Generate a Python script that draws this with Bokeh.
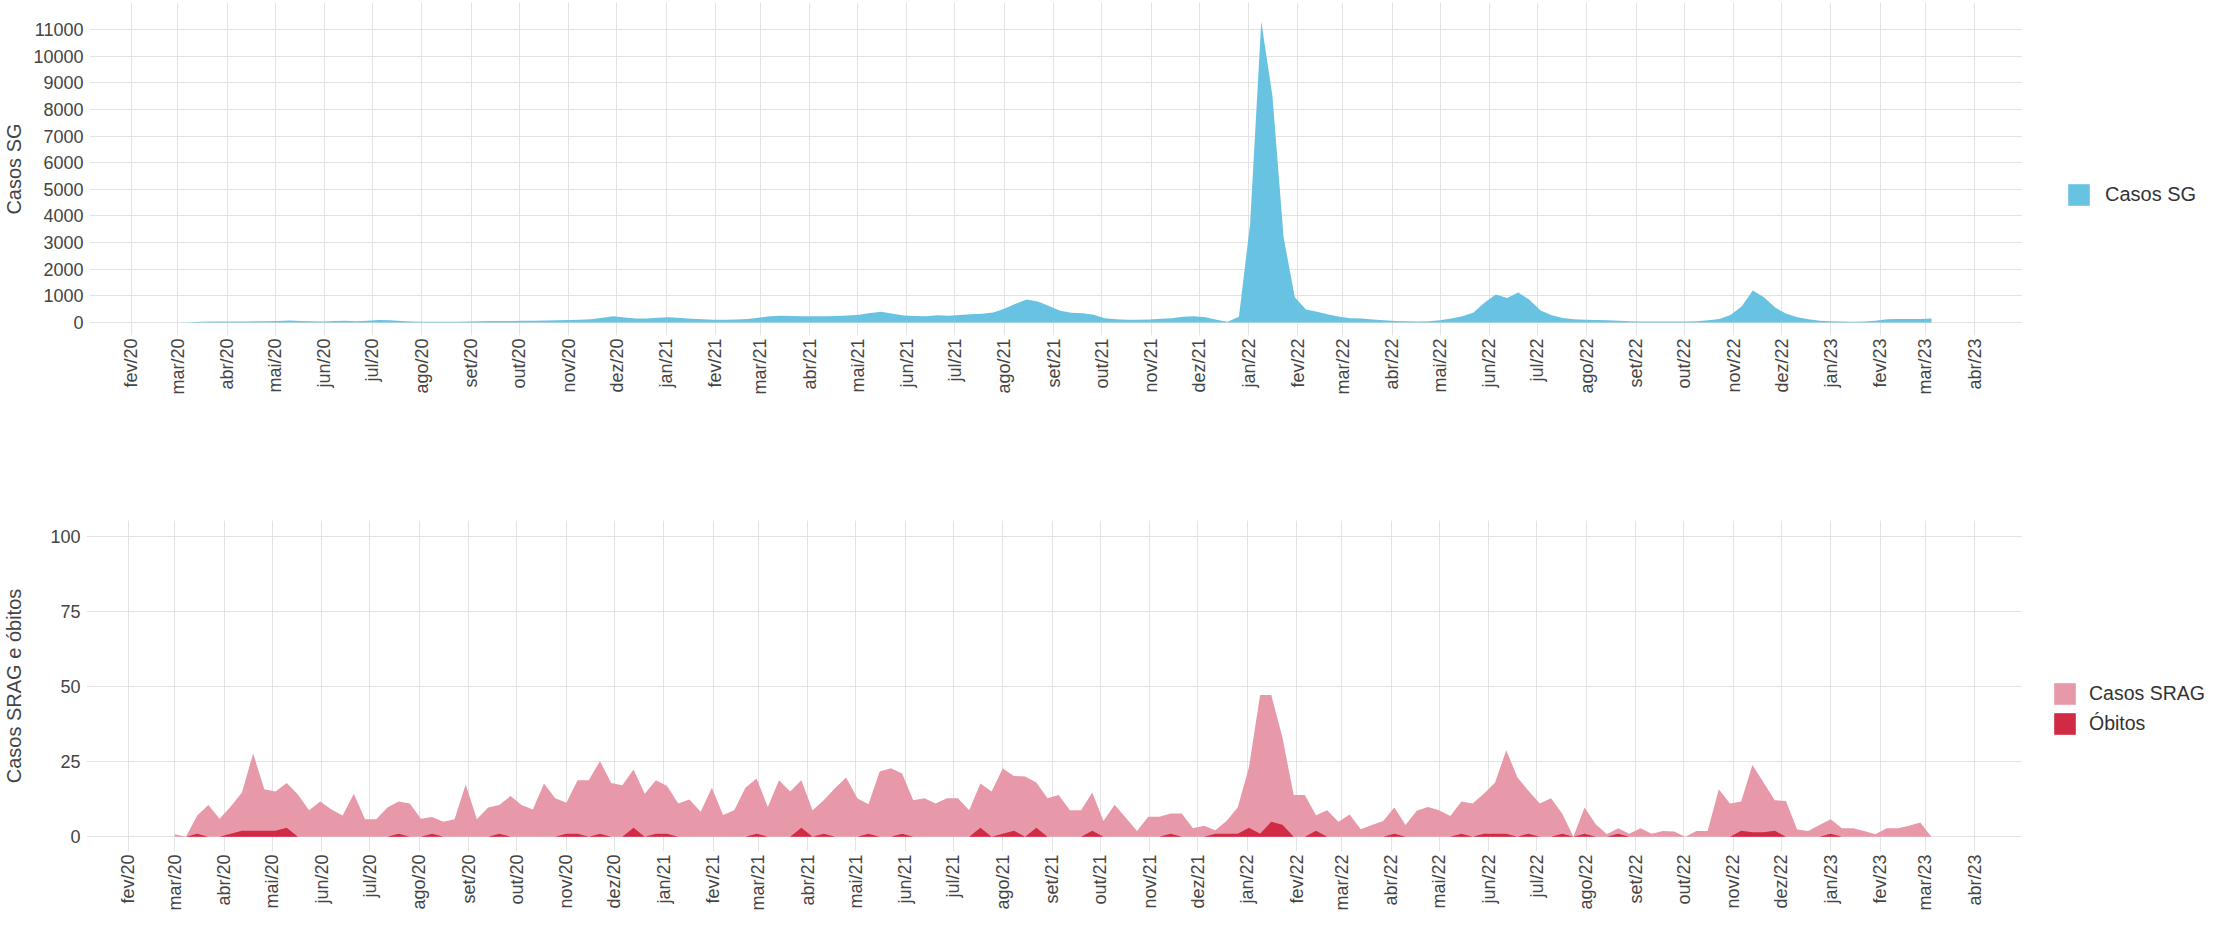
import math
import pandas as pd
from bokeh.plotting import figure
from bokeh.models import FixedTicker, Legend, LegendItem, Range1d, ColumnDataSource
from bokeh.layouts import column, row
from bokeh.embed import file_html
from bokeh.resources import INLINE

# ---------------- data ----------------
week_start = "2020-03-01"   # weekly series (epidemiological weeks)
n_weeks = 158

casos_sg = [
    0, 10, 30, 35, 40, 40, 40, 45, 50, 60,
    75, 60, 45, 40, 55, 65, 45, 70, 90, 85,
    60, 40, 30, 25, 25, 25, 35, 50, 55, 60,
    60, 65, 70, 75, 80, 90, 100, 120, 180, 230,
    190, 150, 150, 180, 200, 170, 140, 120, 105, 100,
    115, 130, 180, 230, 256, 240, 230, 235, 235, 240,
    260, 290, 360, 400, 330, 260, 240, 230, 270, 250,
    280, 310, 330, 380, 520, 700, 860, 790, 620, 440,
    370, 350, 290, 160, 120, 100, 100, 110, 140, 160,
    220, 230, 200, 100, 25, 220, 3700, 11300, 8500, 3200,
    950, 490, 400, 300, 220, 160, 150, 110, 80, 55,
    45, 40, 50, 80, 150, 230, 380, 750, 1050, 920,
    1130, 850, 450, 270, 170, 120, 100, 95, 85, 70,
    50, 40, 40, 40, 40, 40, 50, 80, 130, 280,
    600, 1200, 950, 560, 330, 200, 120, 70, 45, 35,
    25, 40, 70, 120, 130, 130, 135, 150,
]

casos_srag = [
    0.8, 0, 7, 10.5, 6, 10, 14.7, 27.7, 15.8, 15,
    17.9, 14, 8.8, 11.7, 9, 7, 14.3, 5.8, 5.8, 9.7,
    11.7, 11, 6, 6.5, 5, 5.8, 17.4, 5.8, 9.7, 10.5,
    13.5, 10.5, 9, 17.7, 12.8, 11.3, 18.8, 18.8, 25.2, 17.9,
    17.1, 22.4, 14.3, 18.8, 16.9, 11, 12.4, 8.3, 16.3, 7.2,
    8.8, 16.3, 19.4, 9.9, 18.8, 15, 18.8, 8.8, 12.1, 16.1,
    19.7, 12.8, 10.8, 21.7, 22.8, 21, 12.1, 12.8, 11, 12.8,
    12.8, 8.8, 17.7, 15, 22.7, 20.2, 20, 18, 12.8, 13.9,
    8.8, 8.8, 14.7, 5.2, 10.6, 6.3, 1.9, 6.6, 6.6, 7.7,
    7.7, 2.8, 3.6, 2.1, 5.2, 9.7, 23, 47.2, 47.2, 33,
    13.9, 13.9, 7.1, 8.8, 5, 7.4, 2.5, 3.9, 5.2, 9.7,
    3.9, 8.6, 9.9, 8.8, 6.9, 11.7, 11, 14.3, 18, 28.8,
    19.7, 15.2, 11, 12.8, 7.7, 0, 9.7, 4.1, 0.8, 2.8,
    1, 2.8, 1, 1.9, 1.7, 0, 1.9, 1.9, 15.8, 11,
    11.7, 23.9, 18, 12.1, 11.9, 2.4, 1.9, 3.9, 5.8, 2.8,
    2.8, 1.9, 0.8, 2.8, 2.8, 3.6, 4.7, 0,
]

obitos = [
    0, 0, 1, 0, 0, 1, 2, 2, 2, 2,
    3, 0, 0, 0, 0, 0, 0, 0, 0, 0,
    1, 0, 0, 1, 0, 0, 0, 0, 0, 1,
    0, 0, 0, 0, 0, 1, 1, 0, 1, 0,
    0, 3, 0, 1, 1, 0, 0, 0, 0, 0,
    0, 0, 1, 0, 0, 0, 3, 0, 1, 0,
    0, 0, 1, 0, 0, 1, 0, 0, 0, 0,
    0, 0, 3, 0, 1, 2, 0, 3, 0, 0,
    0, 0, 2, 0, 0, 0, 0, 0, 0, 1,
    0, 0, 0, 1, 1, 1, 3, 1, 5, 4,
    0, 0, 2, 0, 0, 0, 0, 0, 0, 1,
    0, 0, 0, 0, 0, 1, 0, 1, 1, 1,
    0, 1, 0, 0, 1, 0, 1, 0, 0, 1,
    0, 0, 0, 0, 0, 0, 0, 0, 0, 0,
    2, 1.5, 1.5, 2, 0, 0, 0, 0, 1, 0,
    0, 0, 0, 0, 0, 0, 0, 0,
]

tick_dates = pd.date_range("2020-02-01", "2023-04-01", freq="MS")
tick_labels = [
    "fev/20", "mar/20", "abr/20", "mai/20", "jun/20", "jul/20", "ago/20", "set/20",
    "out/20", "nov/20", "dez/20", "jan/21", "fev/21", "mar/21", "abr/21", "mai/21",
    "jun/21", "jul/21", "ago/21", "set/21", "out/21", "nov/21", "dez/21", "jan/22",
    "fev/22", "mar/22", "abr/22", "mai/22", "jun/22", "jul/22", "ago/22", "set/22",
    "out/22", "nov/22", "dez/22", "jan/23", "fev/23", "mar/23", "abr/23",
]
sg_ticks = list(range(0, 11001, 1000))
srag_ticks = [0, 25, 50, 75, 100]

x_start, x_end = "2020-01-05 18:00", "2023-05-01"

# ---------------- helpers ----------------
def to_ms(ts):
    return pd.DatetimeIndex(ts).values.astype("datetime64[ms]").astype("int64").tolist()

weeks = pd.date_range(week_start, periods=n_weeks, freq="7D")
x_ms = to_ms(weeks)
tick_ms = to_ms(tick_dates)
x0, x1 = to_ms([x_start, x_end])

src = ColumnDataSource(dict(x=x_ms, sg=casos_sg, srag=casos_srag, ob=obitos))

BLUE = "#68c3e3"
PINK = "#e899a9"
RED = "#d12a44"
GRID = "#e3e3e3"
TXT = "#444444"
FONT = "Liberation Sans"

MAIN_W = 2022     # page x 8 .. 2030 (plot frame ends at the figure's right edge)
LEG_W = 184       # page x 2030 .. 2214


def style(p, yticks, ylabel, label_standoff):
    p.outline_line_color = None
    p.background_fill_color = "white"
    p.border_fill_color = "white"
    xa = p.xaxis[0]
    xa.ticker = FixedTicker(ticks=tick_ms)
    xa.major_label_overrides = {t: l for t, l in zip(tick_ms, tick_labels)}
    xa.major_label_orientation = math.pi / 2
    xa.major_label_text_font = FONT
    xa.major_label_text_font_size = "18px"
    xa.major_label_text_color = TXT
    xa.major_label_standoff = 3
    xa.axis_line_color = None
    xa.major_tick_line_color = None
    xa.minor_tick_line_color = None
    xa.major_tick_out = 0
    xa.major_tick_in = 0
    ya = p.yaxis[0]
    ya.ticker = FixedTicker(ticks=yticks)
    ya.major_label_text_font = FONT
    ya.major_label_text_font_size = "18px"
    ya.major_label_text_color = TXT
    ya.major_label_standoff = 6
    ya.axis_line_color = None
    ya.major_tick_line_color = None
    ya.minor_tick_line_color = None
    ya.major_tick_out = 0
    ya.major_tick_in = 0
    ya.axis_label = ylabel
    ya.axis_label_text_font = FONT
    ya.axis_label_text_font_style = "normal"
    ya.axis_label_text_font_size = "20px"
    ya.axis_label_text_color = TXT
    ya.axis_label_standoff = label_standoff
    p.xgrid.grid_line_color = GRID
    p.ygrid.grid_line_color = GRID


def legend_fig(height, b_top, b_bottom, entries, lx, ly, standoff, fsize):
    # a narrow figure holding only the legend; same top/bottom borders as its chart so frames align
    lf = figure(width=LEG_W, height=height, x_range=Range1d(0, 1), y_range=Range1d(0, 1),
                output_backend="svg", toolbar_location=None,
                x_axis_location=None, y_axis_location=None,
                min_border_left=0, min_border_right=0,
                min_border_top=b_top, min_border_bottom=b_bottom)
    lf.outline_line_color = None
    lf.background_fill_color = "white"
    lf.border_fill_color = "white"
    lf.grid.visible = False
    items = []
    for label, col, color in entries:
        # same data as the chart; the dates fall outside this figure's range, so only the swatch shows
        r = lf.varea(x="x", y1=0, y2=col, source=src, fill_color=color, fill_alpha=1)
        items.append(LegendItem(label=label, renderers=[r]))
    leg = Legend(items=items, location=(lx, ly), margin=0, padding=0, spacing=3,
                 glyph_width=27, glyph_height=27, label_height=27, label_standoff=standoff,
                 label_text_font=FONT, label_text_font_size=fsize, label_text_color="#333333",
                 background_fill_alpha=0, border_line_color=None)
    lf.add_layout(leg, "center")
    return lf


# ---------------- top: Casos SG ----------------
p1 = figure(width=MAIN_W, height=452, x_range=Range1d(x0, x1), y_range=Range1d(-488, 12013),
            output_backend="svg", toolbar_location=None,
            min_border_left=84, min_border_right=0, min_border_top=2, min_border_bottom=117)
p1.varea(x="x", y1=0, y2="sg", source=src, fill_color=BLUE, fill_alpha=1)
style(p1, sg_ticks, "Casos SG", 5)
l1 = legend_fig(452, 2, 117, [("Casos SG", "sg", BLUE)], 43, 127, 13, "20px")

# ---------------- bottom: Casos SRAG e óbitos ----------------
p2 = figure(width=MAIN_W, height=461, x_range=Range1d(x0, x1), y_range=Range1d(-4.95, 105.3),
            output_backend="svg", toolbar_location=None,
            min_border_left=84, min_border_right=0, min_border_top=68, min_border_bottom=59)
p2.varea(x="x", y1=0, y2="srag", source=src, fill_color=PINK, fill_alpha=1)
p2.varea(x="x", y1=0, y2="ob", source=src, fill_color=RED, fill_alpha=1)
style(p2, srag_ticks, "Casos SRAG e óbitos", 22)
l2 = legend_fig(461, 68, 59, [("Casos SRAG", "srag", PINK), ("Óbitos", "ob", RED)],
                29, 114, 11, "19.5px")

layout = column(row(p1, l1, spacing=0), row(p2, l2, spacing=0), spacing=0)
open("out.html", "w").write(file_html(layout, INLINE))
